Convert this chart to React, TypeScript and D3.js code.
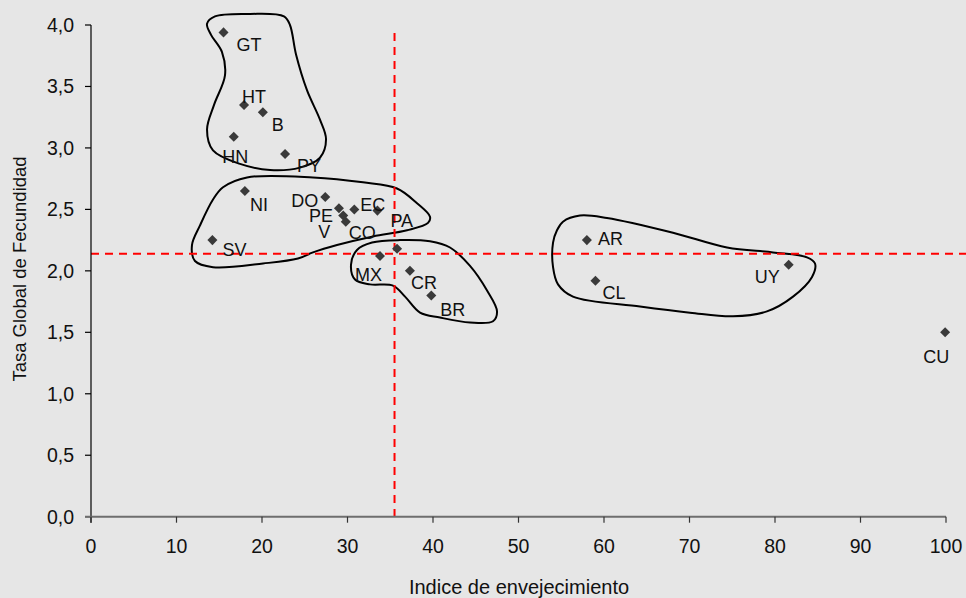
import React from "react";
import * as d3 from "d3";

// ---- Data ----
const countries = ["GT", "HT", "B", "HN", "PY", "NI", "DO", "PE", "V", "CO", "EC", "PA", "SV", "MX", "", "CR", "BR", "AR", "CL", "UY", "CU"];
const agingIndex = [15.5, 17.9, 20.1, 16.7, 22.7, 18.0, 27.4, 29.0, 29.5, 29.8, 30.8, 33.5, 14.2, 33.8, 35.8, 37.3, 39.8, 58.0, 59.0, 81.6, 99.9];
const fertilityRate = [3.94, 3.35, 3.29, 3.09, 2.95, 2.65, 2.60, 2.51, 2.45, 2.40, 2.50, 2.49, 2.25, 2.12, 2.18, 2.00, 1.80, 2.25, 1.92, 2.05, 1.50];

const xTicks = [0, 10, 20, 30, 40, 50, 60, 70, 80, 90, 100];
const yTicks = [0, 0.5, 1, 1.5, 2, 2.5, 3, 3.5, 4];

const refAging = 35.5;
const refFertility = 2.14;

// Cluster outlines in data units
const cluster1: [number, number][] = [
  [13.57, 4.01], [14.5, 4.07], [18.6, 4.09], [22.57, 4.07], [23.27, 4.0], [23.98, 3.76],
  [25.26, 3.47], [26.78, 3.23], [27.49, 3.07], [26.78, 2.92], [24.44, 2.84], [20.94, 2.82],
  [17.43, 2.87], [14.27, 2.98], [13.57, 3.15], [14.39, 3.35], [15.67, 3.59], [15.32, 3.78], [14.04, 3.92],
];
const cluster2: [number, number][] = [
  [15.44, 2.68], [18.25, 2.76], [25.96, 2.76], [31.81, 2.72], [35.79, 2.67], [38.13, 2.55],
  [39.65, 2.44], [39.42, 2.39], [36.96, 2.33], [32.98, 2.28], [28.77, 2.21], [25.96, 2.15],
  [24.21, 2.1], [20.12, 2.06], [14.27, 2.03], [12.16, 2.08], [11.81, 2.21], [12.75, 2.37], [14.27, 2.58],
];
const cluster3: [number, number][] = [
  [31.11, 2.17], [32.87, 2.23], [36.14, 2.25], [39.65, 2.24], [41.99, 2.19], [44.33, 2.04],
  [46.32, 1.84], [47.49, 1.67], [47.02, 1.59], [44.33, 1.58], [40.82, 1.62], [38.48, 1.66],
  [36.73, 1.79], [35.32, 1.88], [32.63, 1.89], [30.88, 1.93], [30.41, 2.05],
];
const cluster4: [number, number][] = [
  [55.2, 2.4], [57.19, 2.45], [60.35, 2.43], [68.07, 2.31], [74.39, 2.19], [79.77, 2.15],
  [83.74, 2.11], [84.68, 2.06], [84.33, 1.95], [82.11, 1.79], [79.06, 1.67], [75.09, 1.63],
  [70.06, 1.66], [64.21, 1.71], [56.37, 1.79], [54.62, 1.89], [54.04, 2.03], [54.04, 2.23], [54.5, 2.33],
];
const clusters = [cluster1, cluster2, cluster3, cluster4];

// Label placement (px offsets from the marker) and anchors
const labelDx = [13, -2, 9, -11.5, 12, 5, -7, -6, -13, 3, 6, 13, 10, -25, 0, 1, 9, 11, 7, -9, -9];
const labelDy = [18.5, -2, 18.6, 26, 18, 20, 10, 14, 22, 17, 1.5, 16, 15.5, 24.6, 0, 18, 21, 5, 18, 18, 31];
const labelAnchor = ["start", "start", "start", "start", "start", "start", "end", "end", "end", "start", "start", "start", "start", "start", "start", "start", "start", "start", "start", "end", "middle"];

const W = 966;
const H = 598;
const FONT = "'Liberation Sans', Arial, Helvetica, sans-serif";

export default function App() {
  const x = d3.scaleLinear().domain([0, 100]).range([91, 946]);
  const y = d3.scaleLinear().domain([0, 4]).range([516.7, 25]);

  const blob = d3
    .line<[number, number]>()
    .x((d) => x(d[0]))
    .y((d) => y(d[1]))
    .curve(d3.curveCatmullRomClosed.alpha(0.5));

  const diamond = d3.symbol().type(d3.symbolDiamond2).size(64)();

  return (
    <svg
      width={W}
      height={H}
      style={{ position: "absolute", left: 0, top: 0, display: "block" }}
      fontFamily={FONT}
    >
      <rect x={0} y={0} width={W} height={H} fill="#e6e6e6" />

      {/* cluster outlines */}
      {clusters.map((c, i) => (
        <path key={i} d={blob(c) || ""} fill="none" stroke="#000" strokeWidth={2} />
      ))}

      {/* reference dashed lines */}
      <line
        x1={x(0)}
        x2={W}
        y1={y(refFertility)}
        y2={y(refFertility)}
        stroke="#ff0000"
        strokeWidth={2}
        strokeDasharray="8,6"
      />
      <line
        x1={x(refAging)}
        x2={x(refAging)}
        y1={33}
        y2={y(0)}
        stroke="#ff0000"
        strokeWidth={2}
        strokeDasharray="8,6"
      />

      {/* y axis */}
      <line x1={x(0)} x2={x(0)} y1={y(4)} y2={y(0) + 6} stroke="#000" strokeWidth={1.2} />
      {yTicks.map((t) => (
        <g key={t}>
          <line x1={x(0) - 6} x2={x(0)} y1={y(t)} y2={y(t)} stroke="#000" strokeWidth={1.2} />
          <text x={74} y={y(t)} dy="0.35em" textAnchor="end" fontSize={19.5} fill="#111">
            {d3.format(".1f")(t).replace(".", ",")}
          </text>
        </g>
      ))}

      {/* x axis */}
      <line x1={x(0) - 6} x2={x(100)} y1={y(0)} y2={y(0)} stroke="#6e6e6e" strokeWidth={2} />
      {xTicks.map((t) => (
        <g key={t}>
          <line x1={x(t)} x2={x(t)} y1={y(0)} y2={y(0) + 6} stroke="#333" strokeWidth={1.2} />
          <text x={x(t)} y={553} textAnchor="middle" fontSize={19.5} fill="#111">
            {t}
          </text>
        </g>
      ))}

      {/* axis titles */}
      <text x={519} y={594} textAnchor="middle" fontSize={20} fill="#111">
        Indice de envejecimiento
      </text>
      <text
        transform={`translate(26,269) rotate(-90)`}
        textAnchor="middle"
        fontSize={18.5}
        fill="#111"
      >
        Tasa Global de Fecundidad
      </text>

      {/* points */}
      {agingIndex.map((a, i) => (
        <path key={i} d={diamond || ""} transform={`translate(${x(a)},${y(fertilityRate[i])})`} fill="#3a3a3a" />
      ))}

      {/* labels */}
      {countries.map((c, i) =>
        c ? (
          <text
            key={i}
            x={x(agingIndex[i]) + labelDx[i]}
            y={y(fertilityRate[i]) + labelDy[i]}
            textAnchor={labelAnchor[i] as any}
            fontSize={18}
            fill="#111"
          >
            {c}
          </text>
        ) : null
      )}
    </svg>
  );
}
